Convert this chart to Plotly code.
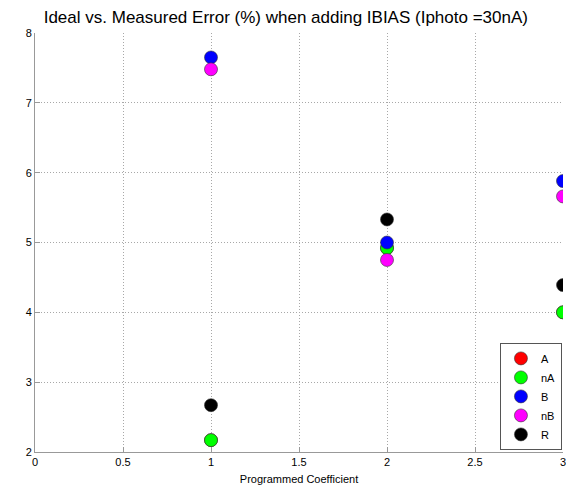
import plotly.graph_objects as go

coeff = [1, 2, 3]
series_names = ["A", "nA", "B", "nB", "R"]
series_colors = ["#ff0000", "#00ff00", "#0000ff", "#ff00ff", "#000000"]
val_A = [2.17, 4.92, 4.00]
val_nA = [2.17, 4.92, 4.00]
val_B = [7.65, 5.00, 5.88]
val_nB = [7.48, 4.75, 5.66]
val_R = [2.67, 5.33, 4.39]
series_values = [val_A, val_nA, val_B, val_nB, val_R]

fig = go.Figure()
for name, color, vals in zip(series_names, series_colors, series_values):
    fig.add_trace(go.Scatter(
        x=coeff, y=vals, mode="markers", name=name,
        marker=dict(size=13, color=color, line=dict(color="#333333", width=0.6)),
        cliponaxis=True,
    ))

font_family = "Liberation Sans, Arial, Helvetica, sans-serif"
fig.update_layout(
    width=566, height=491,
    margin=dict(l=35, r=3, t=33, b=39, autoexpand=False),
    paper_bgcolor="white", plot_bgcolor="white",
    font=dict(family=font_family, size=11, color="black"),
    title=dict(text="Ideal vs. Measured Error (%) when adding IBIAS (Iphoto =30nA)",
               x=0.505, xref="container", xanchor="center",
               y=0.965, yref="container", yanchor="middle",
               font=dict(size=17, family=font_family, color="black")),
    showlegend=True,
    legend=dict(x=0.998, y=0.005, xanchor="right", yanchor="bottom",
                bgcolor="white", bordercolor="#555555", borderwidth=1,
                font=dict(size=11, family=font_family), itemwidth=30,
                entrywidth=52, tracegroupgap=0),
)
fig.update_xaxes(range=[0, 3], tickvals=[0, 0.5, 1, 1.5, 2, 2.5, 3],
                 ticktext=["0", "0.5", "1", "1.5", "2", "2.5", "3"],
                 ticklabeloverflow="allow", automargin=False,
                 showgrid=True, gridcolor="#a8a8a8", griddash="1px,2px", gridwidth=1,
                 zeroline=False, showline=True, linecolor="#999999", linewidth=1,
                 ticks="inside", ticklen=5, tickcolor="#999999",
                 title=dict(text="Programmed Coefficient", font=dict(size=11), standoff=8),
                 tickfont=dict(size=11))
fig.update_yaxes(range=[2, 8], tickvals=[2, 3, 4, 5, 6, 7, 8], automargin=False,
                 showgrid=True, gridcolor="#a8a8a8", griddash="1px,2px", gridwidth=1,
                 zeroline=False, showline=True, linecolor="#999999", linewidth=1,
                 ticks="inside", ticklen=5, tickcolor="#999999",
                 tickfont=dict(size=11))
fig.write_html("out.html")
